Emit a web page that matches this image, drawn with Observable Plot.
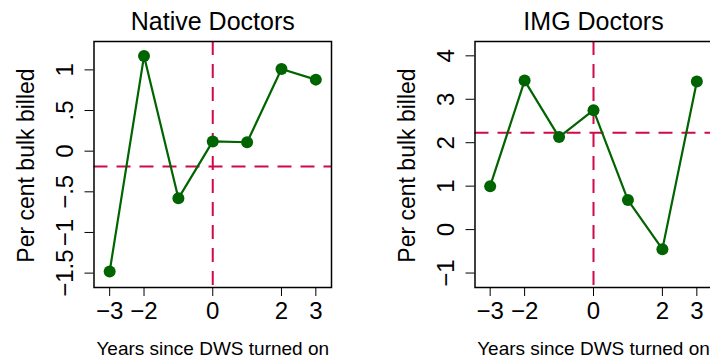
<!DOCTYPE html>
<html>
<head>
<meta charset="utf-8">
<script src="https://cdn.jsdelivr.net/npm/d3@7"></script>
<script src="https://cdn.jsdelivr.net/npm/@observablehq/plot@0.6"></script>
<style>
  html, body { margin: 0; padding: 0; background: #fff; }
  #chart { position: relative; width: 710px; height: 360px; overflow: hidden; background: #fff; }
  #chart svg { position: absolute; top: 0; }
</style>
</head>
<body>
<div id="chart"></div>
<script>
// Event-study estimates: years relative to DWS switch-on
const years = [-3, -2, -1, 0, 1, 2, 3];
const nativeBulk = [-1.48, 1.17, -0.58, 0.12, 0.11, 1.01, 0.88];
const imgBulk = [1.00, 3.43, 2.13, 2.75, 0.68, -0.45, 3.41];

// Horizontal reference levels
const nativeRef = -0.19;
const imgRef = 2.23;

// Axis ticks and their labels
const xTicks = [-3, -2, 0, 2, 3];
const xTickLabels = ["\u22123", "\u22122", "0", "2", "3"];
const nativeYTicks = [1, 0.5, 0, -0.5, -1, -1.5];
const nativeYTickLabels = ["1", ".5", "0", "\u2212.5", "\u22121", "\u22121.5"];
const imgYTicks = [4, 3, 2, 1, 0, -1];
const imgYTickLabels = ["4", "3", "2", "1", "0", "\u22121"];

const titles = ["Native Doctors", "IMG Doctors"];
const xLabel = "Years since DWS turned on";
const yLabel = "Per cent bulk billed";

const font = "'Liberation Sans', Arial, Helvetica, sans-serif";
const green = "#006400";
const red = "#cf0a4a";

function panel({values, ref, yTicks, yTickLabels, yDomain, title, left, width, marginLeft, marginRight, xDomain}) {
  const data = years.map((yr, i) => ({yr, v: values[i]}));
  const svg = Plot.plot({
    width,
    height: 360,
    marginLeft,
    marginRight,
    marginTop: 41,
    marginBottom: 73,
    style: {fontFamily: font, background: "transparent", color: "black", overflow: "visible"},
    x: {domain: xDomain},
    y: {domain: yDomain},
    marks: [
      Plot.ruleX([0], {stroke: red, strokeWidth: 2, strokeDasharray: "14,9"}),
      Plot.ruleY([ref], {stroke: red, strokeWidth: 2, strokeDasharray: "14,9"}),
      Plot.line(data, {x: "yr", y: "v", stroke: green, strokeWidth: 2.2}),
      Plot.dot(data, {x: "yr", y: "v", r: 6, fill: green, stroke: "none"}),
      Plot.frame({stroke: "black", strokeWidth: 1.5}),
      Plot.axisX({
        ticks: xTicks,
        tickSize: 9,
        tickPadding: 5.5,
        fontSize: 24,
        label: null,
        tickFormat: d => xTickLabels[xTicks.indexOf(d)]
      }),
      Plot.axisY({
        ticks: yTicks,
        tickSize: 9,
        tickPadding: 12,
        tickRotate: -90,
        fontSize: 24,
        label: null,
        tickFormat: d => yTickLabels[yTicks.indexOf(d)]
      }),
      Plot.text([title], {
        text: d => d, frameAnchor: "top", dy: -12,
        lineAnchor: "bottom", textAnchor: "middle", fontSize: 25, fill: "black"
      }),
      Plot.text([xLabel], {
        text: d => d, frameAnchor: "bottom", dy: 67,
        lineAnchor: "bottom", textAnchor: "middle", fontSize: 19, fill: "black"
      }),
      Plot.text([yLabel], {
        text: d => d, frameAnchor: "left", dx: -60.5, dy: 1,
        rotate: -90, lineAnchor: "bottom", textAnchor: "middle", fontSize: 23, fill: "black"
      })
    ]
  });
  svg.style.left = left + "px";
  return svg;
}

const chart = document.getElementById("chart");
chart.appendChild(panel({
  values: nativeBulk, ref: nativeRef,
  yTicks: nativeYTicks, yTickLabels: nativeYTickLabels,
  yDomain: [-1.677, 1.349], title: titles[0],
  left: 0, width: 355, marginLeft: 93.5, marginRight: 24,
  xDomain: [-3.456, 3.456]
}));
chart.appendChild(panel({
  values: imgBulk, ref: imgRef,
  yTicks: imgYTicks, yTickLabels: imgYTickLabels,
  yDomain: [-1.333, 4.33], title: titles[1],
  left: 355, width: 360, marginLeft: 119.5, marginRight: 3.5,
  xDomain: [-3.44, 3.44]
}));
</script>
</body>
</html>
